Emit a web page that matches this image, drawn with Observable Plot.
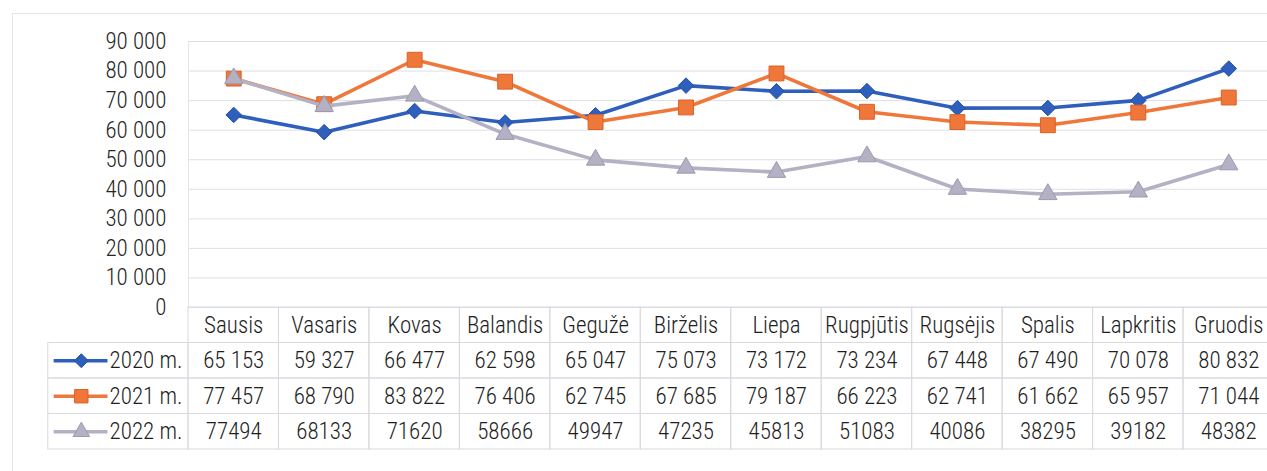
<!DOCTYPE html>
<html><head><meta charset="utf-8">
<script src="https://cdn.jsdelivr.net/npm/d3@7"></script>
<script src="https://cdn.jsdelivr.net/npm/@observablehq/plot@0.6"></script>
<style>
html,body{margin:0;padding:0;background:#fff;overflow:hidden}
#wrap{position:relative;width:1267px;height:471px;overflow:hidden;background:#fff}
#frame{position:absolute;left:12px;top:13px;width:1400px;height:600px;border-left:1px solid #e4e4e4;border-top:1px solid #e4e4e4}
#chart{position:absolute;left:0;top:0}
#table{position:absolute;left:0;top:307px}
svg{overflow:visible}
</style></head><body>
<div id="wrap"><div id="frame"></div><div id="chart"></div><div id="table"></div></div>
<script>
// ---- data ----
const months = ["Sausis","Vasaris","Kovas","Balandis","Gegužė","Birželis","Liepa","Rugpjūtis","Rugsėjis","Spalis","Lapkritis","Gruodis"];
const seriesNames = ["2020 m.","2021 m.","2022 m."];
const v2020 = [65153,59327,66477,62598,65047,75073,73172,73234,67448,67490,70078,80832];
const v2021 = [77457,68790,83822,76406,62745,67685,79187,66223,62741,61662,65957,71044];
const v2022 = [77494,68133,71620,58666,49947,47235,45813,51083,40086,38295,39182,48382];
const groupedLabels = [true, true, false];
const yTicks = [0,10000,20000,30000,40000,50000,60000,70000,80000,90000];

// ---- styling ----
const colors = ["#2e5fbd","#f0773a","#b3b1c3"];
const edge = ["#2450a0","#d8622a","#9c9aae"];
const symbols = ["diamond2","square","triangle"];
const radii = [7, 8.4, 6.8];
const FONT = '"Liberation Sans Narrow","Arial Narrow","Roboto Condensed",sans-serif';
const WEIGHT = 300;
const xRange = [188, 1273.5];
const LEG_LEFT = -1.55, SW_A = -1.485, SW_B = -0.89, SW_M = -1.185;

const groupFmt = v => d3.format(",")(v).replace(/,/g, "\u00a0");
const values = [v2020, v2021, v2022];
const data = [];
values.forEach((arr, s) => arr.forEach((v, i) => data.push({s, i, month: months[i], series: seriesNames[s], value: v})));

// ---- chart ----
const chartMarks = [
  Plot.ruleY(yTicks, {stroke: "#dedee6", strokeWidth: 1}),
  Plot.ruleX([0], {y1: 0, y2: 90000, stroke: "#e6e6e6"}),
  Plot.axisY(yTicks, {label: null, tickSize: 0, tickPadding: 22, tickFormat: groupFmt, fontSize: 23, fontWeight: WEIGHT, fill: "#262626"})
];
seriesNames.forEach((name, s) => {
  const ds = data.filter(d => d.s === s);
  chartMarks.push(Plot.line(ds, {x: d => d.i + 0.5, y: "value", stroke: colors[s], strokeWidth: 3.6}));
  chartMarks.push(Plot.dot(ds, {x: d => d.i + 0.5, y: "value", symbol: symbols[s], r: radii[s], fill: colors[s], stroke: edge[s], strokeWidth: 1}));
});
const chart = Plot.plot({
  width: 1267, height: 308,
  marginLeft: 188, marginRight: 0, marginTop: 41, marginBottom: 1,
  style: {fontFamily: FONT, fontSize: "23px", background: "transparent", color: "#262626"},
  x: {domain: [0, 12], range: xRange, axis: null},
  y: {domain: [0, 90000], label: null},
  marks: chartMarks
});
document.getElementById("chart").appendChild(chart);

// ---- table ----
const cells = [];
for (let r = 0; r < 4; r++) for (let c = 0; c < months.length; c++) cells.push({r, c});
const tableMarks = [
  Plot.rect(cells, {x1: d => d.c, x2: d => d.c + 1, y1: d => d.r, y2: d => d.r + 1, fill: "none", stroke: "#d9d9df"}),
  Plot.rect(seriesNames, {x1: () => LEG_LEFT, x2: () => 0, y1: (d, i) => i + 1, y2: (d, i) => i + 2, fill: "none", stroke: "#d9d9df"}),
  Plot.text(months, {x: (d, i) => i + 0.5, y: () => 0.5, text: d => d, fontSize: 23, fontWeight: WEIGHT, fill: "#1e1e1e"}),
  Plot.text(data, {x: d => d.i + 0.5, y: d => d.s + 1.5, text: d => groupedLabels[d.s] ? groupFmt(d.value) : String(d.value), fontSize: 23, fontWeight: WEIGHT, fill: "#1e1e1e"}),
  Plot.text(seriesNames, {x: () => 0, dx: -6, y: (d, i) => i + 1.5, text: d => d, textAnchor: "end", fontSize: 23, fontWeight: WEIGHT, fill: "#1e1e1e"})
];
seriesNames.forEach((name, s) => {
  tableMarks.push(Plot.ruleY([s + 1.5], {x1: SW_A, x2: SW_B, stroke: colors[s], strokeWidth: 3.6}));
  tableMarks.push(Plot.dot([s + 1.5], {x: () => SW_M, y: d => d, symbol: symbols[s], r: radii[s] * 0.9, fill: colors[s], stroke: edge[s], strokeWidth: 1}));
});
const table = Plot.plot({
  width: 1267, height: 144,
  marginLeft: 188, marginRight: 0, marginTop: 0, marginBottom: 0,
  style: {fontFamily: FONT, fontSize: "23px", background: "transparent", color: "#1e1e1e"},
  x: {domain: [0, 12], range: xRange, axis: null},
  y: {domain: [0, 4], range: [0, 142], axis: null},
  marks: tableMarks
});
document.getElementById("table").appendChild(table);
</script>
</body></html>
